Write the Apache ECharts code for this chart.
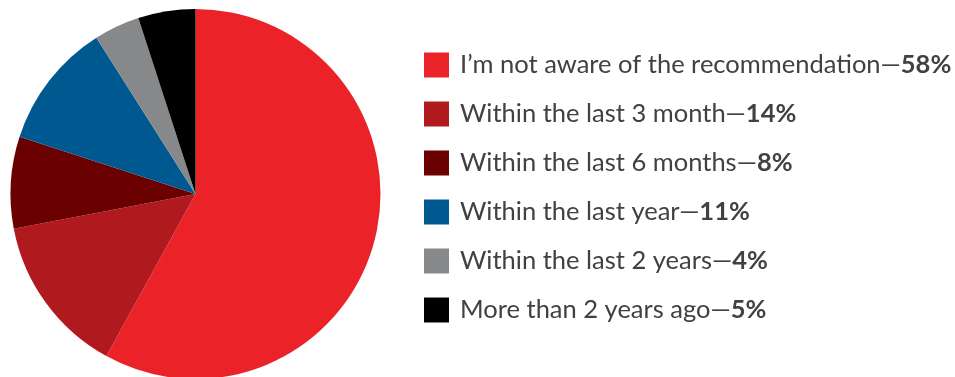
<!DOCTYPE html>
<html>
<head>
<meta charset="utf-8">
<script src="https://cdn.jsdelivr.net/npm/echarts@6/dist/echarts.min.js"></script>
<style>
  html, body { margin: 0; padding: 0; background: #fff; }
  #chart { width: 955px; height: 377px; }
</style>
</head>
<body>
<div id="chart"></div>
<script>
// Survey answers: when the respondent last followed up on the recommendation
const categories = [
  "I\u2019m not aware of the recommendation",
  "Within the last 3 month",
  "Within the last 6 months",
  "Within the last year",
  "Within the last 2 years",
  "More than 2 years ago"
];
const shares = [58, 14, 8, 11, 4, 5];
const colors = ["#EC2229", "#B0191E", "#6B0000", "#005891", "#87888A", "#000000"];

const chart = echarts.init(document.getElementById('chart'));
const lookup = {};
categories.forEach((c, i) => { lookup[c] = shares[i]; });

chart.setOption({
  animation: false,
  color: colors,
  legend: {
    orient: 'vertical',
    left: 424,
    top: 52,
    padding: 0,
    itemWidth: 25,
    itemHeight: 25,
    itemGap: 23,
    icon: 'rect',
    selectedMode: false,
    formatter: name => '{n|' + name + '\u2014}{v|' + lookup[name] + '%}',
    textStyle: {
      padding: [0, 0, 0, 6],
      rich: {
        n: { fontFamily: 'Lato', fontSize: 25.5, lineHeight: 25, color: '#414042' },
        v: { fontFamily: 'Lato', fontSize: 25.5, lineHeight: 25, fontWeight: 'bold', color: '#414042' }
      }
    },
    data: categories
  },
  series: [{
    type: 'pie',
    center: [195.5, 194],
    radius: 185,
    startAngle: 90,
    clockwise: true,
    label: { show: false },
    labelLine: { show: false },
    itemStyle: { borderWidth: 0 },
    emphasis: { disabled: true },
    data: categories.map((c, i) => ({ name: c, value: shares[i] }))
  }]
});
</script>
</body>
</html>
